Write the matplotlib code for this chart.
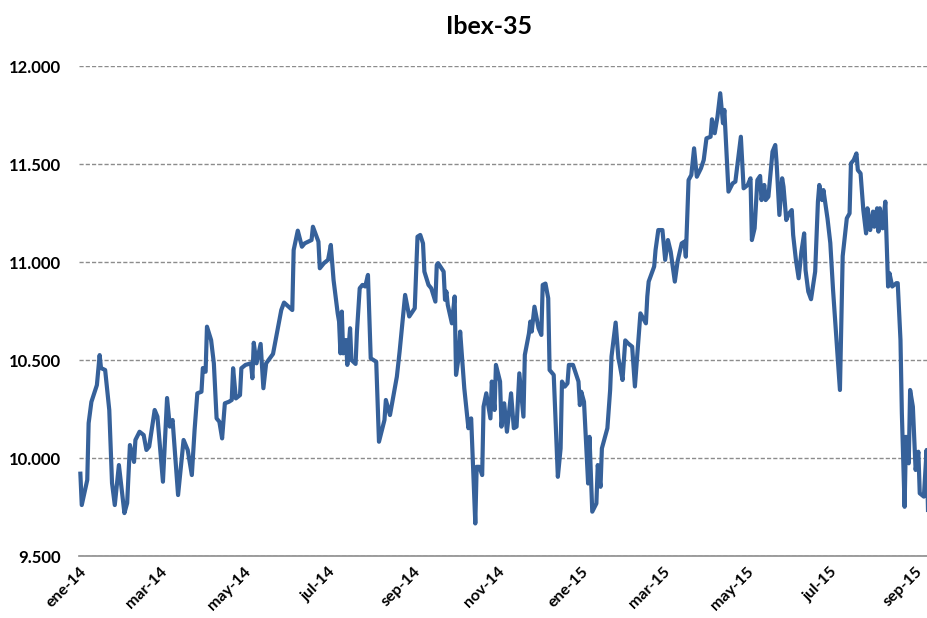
import matplotlib
matplotlib.use('Agg')
import matplotlib.pyplot as plt
from matplotlib import ticker
import pandas as pd

plt.rcParams['font.family'] = ['Lato', 'DejaVu Sans']
plt.rcParams['font.weight'] = 'bold'

# Ibex-35 closes (dates approximate)
dates = [
    '2014-01-02', '2014-01-03', '2014-01-07', '2014-01-08', '2014-01-10', '2014-01-14', '2014-01-16',
    '2014-01-17', '2014-01-20', '2014-01-23', '2014-01-25', '2014-01-27', '2014-01-30', '2014-02-03',
    '2014-02-05', '2014-02-07', '2014-02-10', '2014-02-11', '2014-02-14', '2014-02-17', '2014-02-19',
    '2014-02-21', '2014-02-25', '2014-02-27', '2014-03-03', '2014-03-06', '2014-03-08', '2014-03-10',
    '2014-03-14', '2014-03-18', '2014-03-21', '2014-03-24', '2014-03-26', '2014-03-28', '2014-03-31',
    '2014-04-01', '2014-04-03', '2014-04-04', '2014-04-07', '2014-04-09', '2014-04-11', '2014-04-13',
    '2014-04-15', '2014-04-17', '2014-04-20', '2014-04-22', '2014-04-23', '2014-04-25', '2014-04-28',
    '2014-04-29', '2014-05-02', '2014-05-06', '2014-05-07', '2014-05-08', '2014-05-10', '2014-05-13',
    '2014-05-15', '2014-05-17', '2014-05-22', '2014-05-28', '2014-05-30', '2014-06-05', '2014-06-06',
    '2014-06-09', '2014-06-12', '2014-06-14', '2014-06-19', '2014-06-20', '2014-06-24', '2014-06-25',
    '2014-06-28', '2014-07-01', '2014-07-03', '2014-07-05', '2014-07-08', '2014-07-09', '2014-07-10',
    '2014-07-11', '2014-07-12', '2014-07-14', '2014-07-15', '2014-07-17', '2014-07-18', '2014-07-21',
    '2014-07-22', '2014-07-24', '2014-07-26', '2014-07-28', '2014-07-30', '2014-08-01', '2014-08-05',
    '2014-08-07', '2014-08-11', '2014-08-12', '2014-08-15', '2014-08-20', '2014-08-22', '2014-08-26',
    '2014-08-29', '2014-09-02', '2014-09-04', '2014-09-06', '2014-09-08', '2014-09-09', '2014-09-12',
    '2014-09-14', '2014-09-17', '2014-09-18', '2014-09-19', '2014-09-23', '2014-09-24', '2014-09-25',
    '2014-09-26', '2014-09-29', '2014-10-01', '2014-10-02', '2014-10-04', '2014-10-05', '2014-10-08',
    '2014-10-11', '2014-10-13', '2014-10-16', '2014-10-17', '2014-10-19', '2014-10-21', '2014-10-22',
    '2014-10-24', '2014-10-27', '2014-10-28', '2014-10-30', '2014-10-31', '2014-11-03', '2014-11-04',
    '2014-11-06', '2014-11-08', '2014-11-11', '2014-11-13', '2014-11-15', '2014-11-17', '2014-11-20',
    '2014-11-21', '2014-11-24', '2014-11-25', '2014-11-26', '2014-11-28', '2014-12-01', '2014-12-03',
    '2014-12-04', '2014-12-06', '2014-12-08', '2014-12-09', '2014-12-12', '2014-12-15', '2014-12-17',
    '2014-12-18', '2014-12-20', '2014-12-22', '2014-12-23', '2014-12-26', '2014-12-30', '2014-12-31',
    '2015-01-01', '2015-01-03', '2015-01-06', '2015-01-07', '2015-01-09', '2015-01-12', '2015-01-13',
    '2015-01-15', '2015-01-16', '2015-01-20', '2015-01-22', '2015-01-23', '2015-01-26', '2015-01-28',
    '2015-01-29', '2015-01-31', '2015-02-02', '2015-02-04', '2015-02-07', '2015-02-09', '2015-02-13',
    '2015-02-17', '2015-02-18', '2015-02-19', '2015-02-23', '2015-02-24', '2015-02-26', '2015-03-01',
    '2015-03-03', '2015-03-05', '2015-03-07', '2015-03-10', '2015-03-12', '2015-03-15', '2015-03-17',
    '2015-03-18', '2015-03-20', '2015-03-22', '2015-03-24', '2015-03-26', '2015-03-29', '2015-03-31',
    '2015-04-02', '2015-04-05', '2015-04-06', '2015-04-08', '2015-04-10', '2015-04-12', '2015-04-14',
    '2015-04-15', '2015-04-18', '2015-04-21', '2015-04-23', '2015-04-27', '2015-04-29', '2015-05-02',
    '2015-05-04', '2015-05-05', '2015-05-07', '2015-05-09', '2015-05-11', '2015-05-12', '2015-05-14',
    '2015-05-15', '2015-05-17', '2015-05-20', '2015-05-22', '2015-05-23', '2015-05-25', '2015-05-27',
    '2015-05-28', '2015-05-30', '2015-06-01', '2015-06-03', '2015-06-04', '2015-06-06', '2015-06-08',
    '2015-06-10', '2015-06-12', '2015-06-13', '2015-06-15', '2015-06-17', '2015-06-20', '2015-06-22',
    '2015-06-23', '2015-06-25', '2015-06-26', '2015-06-29', '2015-07-01', '2015-07-03', '2015-07-08',
    '2015-07-10', '2015-07-13', '2015-07-15', '2015-07-16', '2015-07-18', '2015-07-20', '2015-07-21',
    '2015-07-23', '2015-07-25', '2015-07-27', '2015-07-28', '2015-07-30', '2015-08-01', '2015-08-02',
    '2015-08-04', '2015-08-05', '2015-08-06', '2015-08-08', '2015-08-10', '2015-08-12', '2015-08-13',
    '2015-08-15', '2015-08-18', '2015-08-19', '2015-08-21', '2015-08-22', '2015-08-24', '2015-08-25',
    '2015-08-27', '2015-08-28', '2015-08-30', '2015-09-01', '2015-09-03', '2015-09-04', '2015-09-07',
    '2015-09-09', '2015-09-10',
]

ibex = [
    9920, 9760, 9888, 10178, 10286, 10372, 10525,
    10459, 10449, 10245, 9872, 9760, 9964, 9719,
    9770, 10066, 9980, 10092, 10134, 10117, 10041,
    10058, 10245, 10211, 9879, 10306, 10160, 10194,
    9811, 10092, 10041, 9913, 10143, 10330, 10338,
    10459, 10440, 10670, 10602, 10483, 10202, 10185,
    10100, 10279, 10287, 10296, 10458, 10304, 10321,
    10458, 10475, 10483, 10407, 10588, 10483, 10582,
    10356, 10483, 10531, 10755, 10793, 10755, 11061,
    11160, 11078, 11095, 11112, 11180, 11104, 10968,
    10994, 11011, 11087, 10908, 10738, 10696, 10534,
    10747, 10534, 10602, 10475, 10662, 10500, 10480,
    10645, 10866, 10883, 10875, 10934, 10509, 10491,
    10083, 10194, 10296, 10219, 10415, 10543, 10832,
    10722, 10764, 11129, 11138, 11095, 10951, 10883,
    10866, 10798, 10985, 10994, 10951, 10807, 10849,
    10781, 10687, 10824, 10424, 10518, 10645, 10356,
    10152, 10202, 9666, 9955, 9955, 9913, 10262,
    10330, 10202, 10390, 10245, 10475, 10390, 10160,
    10279, 10134, 10330, 10152, 10160, 10432, 10211,
    10526, 10636, 10696, 10645, 10772, 10662, 10628,
    10883, 10890, 10815, 10449, 10424, 9904, 10049,
    10390, 10364, 10381, 10475, 10475, 10390, 10270,
    10338, 10287, 9870, 10108, 9726, 9768, 9964,
    9853, 10049, 10152, 10347, 10518, 10691, 10509,
    10475, 10398, 10600, 10585, 10568, 10365, 10738,
    10687, 10824, 10900, 10977, 11061, 11163, 11163,
    11011, 11112, 11053, 10900, 11002, 11095, 11104,
    11027, 11418, 11444, 11580, 11435, 11478, 11520,
    11631, 11639, 11728, 11657, 11741, 11861, 11708,
    11776, 11359, 11401, 11410, 11639, 11376, 11393,
    11427, 11112, 11172, 11418, 11439, 11316, 11393,
    11316, 11333, 11563, 11597, 11503, 11240, 11427,
    11384, 11214, 11248, 11265, 11138, 11011, 10917,
    11053, 11146, 10959, 10849, 10810, 10951, 11308,
    11393, 11316, 11367, 11220, 11097, 10857, 10347,
    11030, 11223, 11248, 11503, 11520, 11554, 11469,
    11452, 11265, 11146, 11274, 11163, 11257, 11180,
    11274, 11155, 11274, 11172, 11308, 10875, 10943,
    10875, 10892, 10892, 10602, 10228, 9751, 10108,
    9973, 10347, 10262, 9939, 10032, 9820, 9803,
    10041, 9735,
]

tick_dates = ['2014-01-01', '2014-03-01', '2014-05-01', '2014-07-01', '2014-09-01', '2014-11-01',
              '2015-01-01', '2015-03-01', '2015-05-01', '2015-07-01', '2015-09-01']
tick_labels = ['ene-14', 'mar-14', 'may-14', 'jul-14', 'sep-14', 'nov-14',
               'ene-15', 'mar-15', 'may-15', 'jul-15', 'sep-15']

if __name__ == "__main__":
    x = pd.to_datetime(dates)

    fig = plt.figure(figsize=(9.28, 6.18), dpi=100)
    ax = fig.add_axes([79 / 928, 62 / 618, 849 / 928, 490 / 618])

    ax.plot(x, ibex, color='#36619a', linewidth=3.0, solid_joinstyle='round', zorder=3, clip_on=False)

    ax.set_ylim(9500, 12000)
    ax.set_yticks(range(9500, 12001, 500))
    ax.yaxis.set_major_formatter(ticker.FuncFormatter(lambda v, p: f'{v:,.0f}'.replace(',', '.')))
    ax.set_xlim(pd.Timestamp('2014-01-01'), pd.Timestamp('2015-09-10'))
    ax.set_xticks(pd.to_datetime(tick_dates))
    ax.set_xticklabels(tick_labels, rotation=45, ha='right', va='top', rotation_mode='anchor')

    ax.grid(axis='y', color='#8c8c8c', linestyle=(0, (3, 1.5)), linewidth=1.0)
    ax.grid(axis='x', visible=False)
    for side in ['left', 'right', 'top']:
        ax.spines[side].set_visible(False)
    ax.spines['bottom'].set_color('#8c8c8c')
    ax.spines['bottom'].set_linewidth(1.2)
    ax.tick_params(axis='both', length=0, labelsize=12)
    ax.tick_params(axis='x', labelsize=11.5, pad=6)
    ax.tick_params(axis='y', pad=13)

    fig.text(489 / 928, 1 - 26 / 618, 'Ibex-35', ha='center', va='center', fontsize=18, fontweight='bold')

    fig.savefig('out.png', dpi=100)
